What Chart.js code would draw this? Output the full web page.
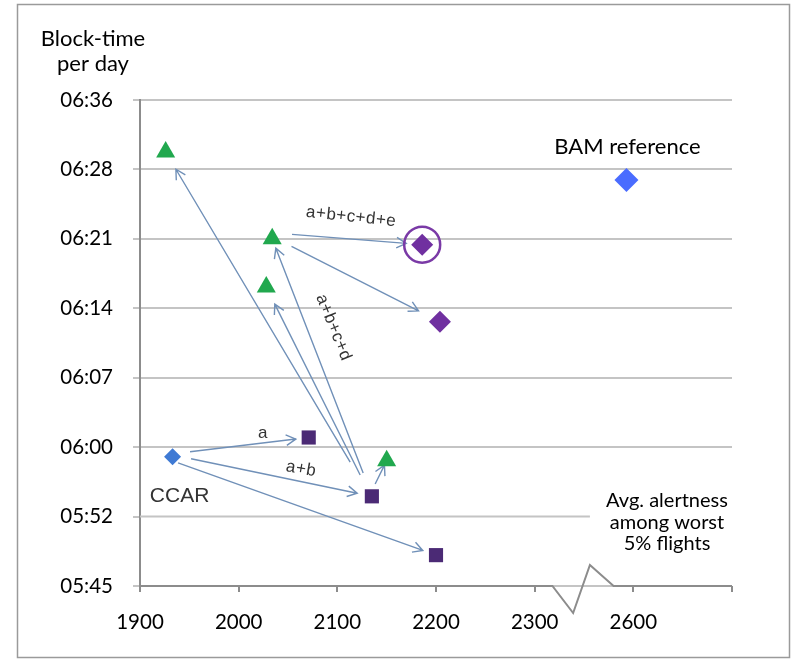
<!DOCTYPE html>
<html>
<head>
<meta charset="utf-8">
<script src="https://cdn.jsdelivr.net/npm/chart.js@4.4.1/dist/chart.umd.min.js"></script>
<style>
  html, body { margin: 0; padding: 0; background: #fff; }
  canvas { display: block; }
</style>
</head>
<body>
<canvas id="chart" width="798" height="660"></canvas>
<script>
// tick labels
var xTickLabels = ['1900', '2000', '2100', '2200', '2300', '2600', ''];
var yTickValues = [345.6, 352.8, 360, 367.2, 374.4, 381.6, 388.8, 396]; // minutes
var yTickLabels = ['05:45', '05:52', '06:00', '06:07', '06:14', '06:21', '06:28', '06:36'];

// x = avg. alertness among worst 5% flights, y = block-time per day (minutes)
var trianglePts = [[1926, 390.6], [2034, 381.6], [2028, 376.6], [2150, 358.6]];
var diamondPts = [[2186, 381.0], [2204, 373.0]];
var squarePts = [[2071, 361.0], [2135, 354.9], [2200, 348.8]];
var ccarPt = [1933, 359.0];
var bamPt = [2593, 387.7];

// the x axis is broken between 2300 and 2600
var breakShift = 200;
function toAxis(p) {
  return { x: p[0] >= 2500 ? p[0] - breakShift : p[0], y: p[1] };
}

// arrows: from, to, start offset (px) from the "from" marker, gap before the "to" marker
var arrows = [
  { from: ccarPt, to: squarePts[0], off: [17.5, -5], gap: 13, label: { text: 'a', dx: 20, dy: -12, rot: 0 } },
  { from: ccarPt, to: squarePts[1], off: [18.5, 2], gap: 15, label: { text: 'a+b', dx: 27, dy: -7, rot: 10 } },
  { from: ccarPt, to: squarePts[2], off: [5.5, 6], gap: 14 },
  { from: squarePts[1], to: trianglePts[3], off: [3.3, -12.3], gap: 5 },
  { from: squarePts[1], to: trianglePts[0], off: [-21.7, -34.3], gap: 20 },
  { from: squarePts[1], to: trianglePts[2], off: [-11.7, -21.3], gap: 19 },
  { from: squarePts[1], to: trianglePts[1], off: [-8.7, -23.3], gap: 10, label: { text: 'a+b+c+d', dx: 14, dy: -33, rot: 68 } },
  { from: trianglePts[1], to: diamondPts[0], off: [19.8, -4.5], gap: 16, label: { text: 'a+b+c+d+e', dx: 2, dy: -22, rot: 6 } },
  { from: trianglePts[1], to: diamondPts[1], off: [19.3, 7.5], gap: 24 }
];

function px(chart, p) {
  var a = toAxis(p);
  return [chart.scales.x.getPixelForValue(a.x), chart.scales.y.getPixelForValue(a.y)];
}

var overlay = {
  id: 'overlay',
  beforeDatasetsDraw: function(chart) {
    var ctx = chart.ctx;
    var xs = chart.scales.x, ys = chart.scales.y;
    ctx.save();
    // shortened 05:52 grid line, stops at the axis break
    ctx.strokeStyle = '#c4c4c4';
    ctx.lineWidth = 2;
    ctx.beginPath();
    ctx.moveTo(chart.chartArea.left, ys.getPixelForValue(yTickValues[1]));
    ctx.lineTo(xs.getPixelForValue(2356), ys.getPixelForValue(yTickValues[1]));
    ctx.stroke();

    // arrows
    ctx.strokeStyle = '#7090b8';
    ctx.fillStyle = '#333';
    ctx.lineWidth = 1.4;
    arrows.forEach(function(a) {
      var f = px(chart, a.from), t = px(chart, a.to);
      var sx = f[0] + a.off[0], sy = f[1] + a.off[1];
      var dx = t[0] - sx, dy = t[1] - sy;
      var len = Math.sqrt(dx * dx + dy * dy);
      var ux = dx / len, uy = dy / len;
      var ex = t[0] - ux * a.gap, ey = t[1] - uy * a.gap;
      ctx.beginPath();
      ctx.moveTo(sx, sy);
      ctx.lineTo(ex, ey);
      var ang = Math.atan2(uy, ux), hl = 11, ha = 0.5;
      ctx.moveTo(ex - hl * Math.cos(ang - ha), ey - hl * Math.sin(ang - ha));
      ctx.lineTo(ex, ey);
      ctx.lineTo(ex - hl * Math.cos(ang + ha), ey - hl * Math.sin(ang + ha));
      ctx.stroke();

      if (a.label) {
        var mx = (sx + ex) / 2 + a.label.dx, my = (sy + ey) / 2 + a.label.dy;
        ctx.save();
        ctx.translate(mx, my);
        ctx.rotate(a.label.rot * Math.PI / 180);
        ctx.font = '17px "Liberation Sans", Arial, sans-serif';
        ctx.letterSpacing = '0.5px';
        ctx.textAlign = 'center';
        ctx.textBaseline = 'middle';
        ctx.fillText(a.label.text, 0, 0);
        ctx.restore();
      }
    });
    ctx.restore();
  },
  afterDraw: function(chart) {
    var ctx = chart.ctx;
    var xs = chart.scales.x, ys = chart.scales.y;
    var area = chart.chartArea;
    ctx.save();

    // x axis line with the break zigzag
    var by = area.bottom;
    ctx.strokeStyle = '#8c8c8c';
    ctx.lineWidth = 2;
    ctx.lineJoin = 'miter';
    ctx.beginPath();
    ctx.moveTo(area.left, by);
    ctx.lineTo(xs.getPixelForValue(2318), by);
    ctx.lineTo(xs.getPixelForValue(2339), by + 27);
    ctx.lineTo(xs.getPixelForValue(2356), by - 21);
    ctx.lineTo(xs.getPixelForValue(2380), by);
    ctx.lineTo(area.right, by);
    ctx.stroke();

    // circle around the highlighted diamond
    var c = px(chart, diamondPts[0]);
    ctx.strokeStyle = '#7a3aa6';
    ctx.lineWidth = 2.5;
    ctx.beginPath();
    ctx.arc(c[0], c[1], 18, 0, Math.PI * 2);
    ctx.stroke();

    // texts
    ctx.fillStyle = '#000';
    ctx.textAlign = 'center';
    ctx.textBaseline = 'alphabetic';
    ctx.font = '22px Lato, sans-serif';
    ctx.fillText('Block-time', 93, 46);
    ctx.fillText('per day', 93, 71);

    var b = px(chart, bamPt);
    ctx.fillText('BAM reference', b[0] + 1, b[1] - 26);

    var cc = px(chart, ccarPt);
    ctx.fillStyle = '#333';
    ctx.font = '21px "Liberation Sans", Arial, sans-serif';
    ctx.fillText('CCAR', cc[0] + 7, cc[1] + 45);

    ctx.fillStyle = '#000';
    ctx.font = '20px Lato, sans-serif';
    ctx.fillText('Avg. alertness', 667, 507);
    ctx.fillText('among worst', 667, 529);
    ctx.fillText('5% flights', 667, 550);

    // outer frame
    ctx.strokeStyle = '#9a9a9a';
    ctx.lineWidth = 1.5;
    ctx.strokeRect(17.5, 4.5, 772, 653);
    ctx.restore();
  }
};

var ctx = document.getElementById('chart').getContext('2d');
var chart = new Chart(ctx, {
  type: 'scatter',
  data: {
    datasets: [
      { label: 'triangles', data: trianglePts.map(toAxis), pointStyle: 'triangle', pointRadius: 11,
        backgroundColor: '#21a84e', borderWidth: 0 },
      { label: 'diamonds', data: diamondPts.map(toAxis), pointStyle: 'rectRot', pointRadius: 11,
        backgroundColor: '#7030a0', borderWidth: 0 },
      { label: 'squares', data: squarePts.map(toAxis), pointStyle: 'rect', pointRadius: 10,
        backgroundColor: '#4b2a75', borderWidth: 0 },
      { label: 'CCAR', data: [toAxis(ccarPt)], pointStyle: 'rectRot', pointRadius: 8.5,
        backgroundColor: '#3f7ad4', borderWidth: 0 },
      { label: 'BAM reference', data: [toAxis(bamPt)], pointStyle: 'rectRot', pointRadius: 12,
        backgroundColor: '#4a6cff', borderWidth: 0 }
    ]
  },
  options: {
    responsive: false,
    animation: false,
    devicePixelRatio: 1,
    layout: { padding: { left: 0, right: 66, top: 100, bottom: 0 } },
    plugins: { legend: { display: false }, tooltip: { enabled: false } },
    scales: {
      x: {
        type: 'linear',
        min: 1900,
        max: 2500,
        afterFit: function(scale) { scale.height = 74; },
        afterBuildTicks: function(scale) {
          scale.ticks = xTickLabels.map(function(l, i) { return { value: 1900 + i * 100 }; });
        },
        ticks: {
          padding: 18,
          color: '#000',
          font: { family: 'Lato', size: 20.5 },
          maxRotation: 0,
          callback: function(v, i) { return xTickLabels[i]; }
        },
        grid: { drawOnChartArea: false, drawTicks: true, tickLength: 6, color: '#8c8c8c', lineWidth: 2 },
        border: { display: false }
      },
      y: {
        min: yTickValues[0],
        max: yTickValues[yTickValues.length - 1],
        afterFit: function(scale) { scale.width = 140; },
        afterBuildTicks: function(scale) {
          scale.ticks = yTickValues.map(function(v) { return { value: v }; });
        },
        ticks: {
          padding: 20,
          color: '#000',
          font: { family: 'Lato', size: 20.5 },
          callback: function(v, i) { return yTickLabels[i]; }
        },
        grid: {
          color: function(c) {
            return c.tick && c.tick.value === yTickValues[1] ? 'rgba(0,0,0,0)' : '#c4c4c4';
          },
          tickColor: '#c4c4c4',
          lineWidth: 2,
          tickLength: 7
        },
        border: { display: true, color: '#8c8c8c', width: 2 }
      }
    }
  },
  plugins: [overlay]
});
</script>
</body>
</html>
